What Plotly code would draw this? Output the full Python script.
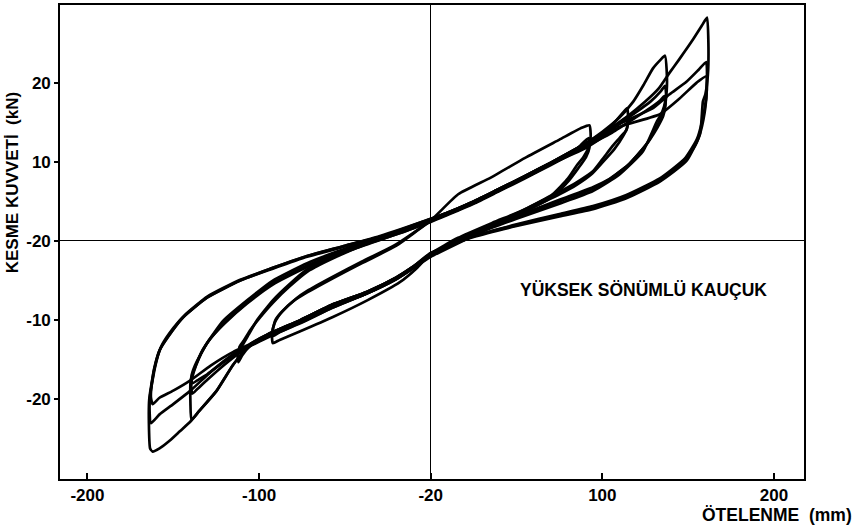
import plotly.graph_objects as go

# Hysteresis loops: (displacement mm, shear force kN), traversed clockwise
loop_a1 = [(92.5,14.6),(93.2,13.2),(92,11.8),(89,10.6),(85,9.5),(80,7.9),(71,5.9),(55,4.0),(36,2.3),(16,0.4),(0,-1.6),
           (-8,-3.4),(-18,-5.2),(-37,-7.5),(-57,-9.6),(-76,-11.4),(-88,-12.5),(-92,-12.9),(-92.5,-11.8),(-91,-10.4),
           (-89,-9.6),(-86,-8.8),(-78,-7.2),(-72,-6.3),(-57,-4.5),(-40,-2.6),(-20,-0.4),(0,2.6),(16,5.9),(35,8.0),
           (55,10.5),(75,12.8),(88,14.3),(92.5,14.6)]
loop_a2 = [(92,13.0),(92.5,11.8),(90.5,10.6),(86,9.2),(80,7.5),(71,5.6),(55,3.7),(36,2.0),(16,0.2),(0,-1.8),(-10,-3.3),
           (-20,-4.7),(-37,-6.6),(-57,-8.4),(-76,-10.4),(-88,-11.5),(-91.5,-12.0),(-92,-11.2),(-90.5,-10.0),(-87,-9.0),
           (-80,-7.6),(-72,-6.5),(-57,-4.7),(-40,-2.8),(-20,-0.6),(0,2.5),(10,3.4),(25,4.8),(40,6.4),(55,8.0),(70,9.7),
           (85,11.6),(92,13.0)]
loop_d1 = [(114.5,16.8),(115,15.2),(114,14.0),(110,13.0),(106,12.0),(100,10.3),(94.5,8.8),(85,7.4),(75,6.2),(55,4.0),
           (30,1.4),(0,-1.8),(-10,-3.2),(-20,-4.6),(-37,-6.4),(-57,-8.0),(-76,-10.0),(-95,-11.8),(-105,-13.2),(-110,-14.5),
           (-112,-15.3),(-112.5,-14.4),(-110.5,-13.5),(-106,-11.8),(-101.5,-10.1),(-92,-7.5),(-82,-5.4),(-72,-3.6),
           (-55,-1.8),(-35,0.0),(-15,1.4),(0,2.7),(10,3.6),(25,5.0),(40,6.6),(55,8.2),(70,9.9),(90,12.3),(100,13.6),
           (108,15.2),(112,16.2),(114.5,16.8)]
loop_d2 = [(114,15.6),(114.5,14.4),(112,13.2),(107,11.6),(100,9.9),(94,8.5),(85,7.1),(75,5.9),(55,3.8),(30,1.2),(0,-2.0),
           (-10,-3.4),(-20,-4.8),(-37,-6.6),(-57,-8.3),(-76,-10.2),(-95,-12.1),(-105,-13.2),(-111,-14.2),(-111.5,-13.4),
           (-109,-12.6),(-105,-11.2),(-100,-9.8),(-92,-7.8),(-82,-5.7),(-72,-3.9),(-55,-2.0),(-35,-0.2),(-15,1.2),(0,2.5),
           (10,3.4),(25,4.8),(40,6.4),(55,8.0),(70,9.7),(90,12.0),(100,13.3),(110,14.9),(114,15.6)]
loop_b1 = [(136.5,23.4),(137.5,21.5),(137.5,19.0),(136,17.0),(134,15.9),(131.8,15.1),(123.6,11.3),(110,8.4),(94.5,6.3),
           (75,4.7),(50,2.8),(30,1.2),(0,-1.6),(-10,-3.2),(-20,-4.6),(-37,-6.4),(-57,-8.0),(-76,-10.0),(-95,-11.8),
           (-105,-13.0),(-115,-15.6),(-125,-19.0),(-135,-21.5),(-139.4,-22.6),(-140,-20.5),(-139.8,-17.5),(-137,-15.8),
           (-133,-13.8),(-121,-10.1),(-107,-7.5),(-92,-5.0),(-72,-2.8),(-50,-1.0),(-30,0.4),(0,2.8),(10,3.6),(25,5.0),
           (40,6.6),(55,8.2),(70,9.9),(90,12.3),(100,13.8),(110,15.6),(118,17.6),(124,19.7),(129.5,21.8),(134,22.9),
           (136.5,23.4)]
loop_b2 = [(136.5,19.6),(137.2,18.3),(136,16.6),(133,15.0),(126,12.3),(116,9.8),(105,7.9),(94.5,6.6),(75,5.0),(50,3.0),
           (30,1.3),(0,-1.8),(-10,-3.3),(-20,-4.7),(-37,-6.5),(-57,-8.2),(-76,-10.1),(-95,-12.0),(-108,-13.6),(-120,-15.6),
           (-130,-17.5),(-136,-18.7),(-139,-19.3),(-139.5,-18.0),(-138,-16.5),(-135,-14.8),(-130,-12.8),(-121,-10.5),
           (-107,-7.8),(-92,-5.3),(-72,-3.1),(-50,-1.2),(-30,0.2),(0,2.6),(10,3.5),(25,4.9),(40,6.5),(55,8.1),(70,9.8),
           (90,12.1),(105,14.0),(118,16.0),(128,17.6),(134,18.9),(136.5,19.6)]
loop_b3 = [(136,18.3),(136.8,17.2),(135.5,15.8),(132,14.3),(125,12.0),(115,9.6),(104,7.8),(94.5,6.8),(75,5.2),(50,3.1),
           (30,1.4),(0,-1.9),(-10,-3.4),(-20,-4.8),(-37,-6.6),(-57,-8.4),(-76,-10.3),(-95,-12.2),(-108,-13.6),(-120,-15.2),
           (-130,-16.8),(-136,-17.6),(-139,-18.0),(-139.3,-17.0),(-137.5,-15.8),(-134,-14.3),(-129,-12.5),(-120,-10.4),
           (-107,-7.9),(-92,-5.5),(-72,-3.3),(-50,-1.4),(-30,0.1),(0,2.4),(10,3.3),(25,4.7),(40,6.3),(55,7.9),(70,9.6),
           (90,11.9),(105,13.6),(118,15.4),(128,16.8),(134,17.8),(136,18.3)]
loop_c1 = [(161,28.2),(161.8,25.0),(161.5,21.0),(160,18.5),(158.6,17.6),(156.9,13.5),(149,10.1),(133.5,7.5),(114,5.4),
           (94.5,4.0),(75,3.1),(50,1.9),(25,0.5),(0,-1.5),(-10,-3.2),(-20,-4.6),(-37,-6.4),(-57,-8.0),(-76,-10.0),
           (-95,-11.8),(-105,-13.0),(-115,-15.6),(-125,-19.0),(-135,-21.5),(-140,-22.8),(-146,-24.0),(-152,-25.2),
           (-158,-26.2),(-162,-26.6),(-163.5,-26.2),(-164.2,-23.0),(-164,-20.0),(-161,-16.0),(-158,-13.8),(-151,-11.5),
           (-144.6,-9.7),(-130.6,-7.2),(-111,-5.0),(-92,-3.4),(-72,-1.9),(-50,-0.6),(-30,0.6),(0,2.8),(10,3.6),(25,5.0),
           (40,6.6),(55,8.2),(70,9.9),(90,12.3),(105,14.3),(115,15.8),(125,17.6),(133,19.3),(139,21.2),(145,23.0),
           (153,25.5),(158,27.2),(161,28.2)]
loop_c2 = [(160.5,22.6),(161,20.5),(160.5,18.0),(158,15.0),(155,12.8),(148,10.4),(133.5,7.9),(114,5.8),(94.5,4.4),
           (75,3.4),(50,2.1),(25,0.6),(0,-1.6),(-10,-3.3),(-20,-4.7),(-37,-6.5),(-57,-8.2),(-76,-10.1),(-95,-12.0),
           (-115,-14.3),(-128,-16.5),(-140,-18.9),(-150,-20.6),(-158,-21.9),(-163,-23.0),(-163.8,-21.5),(-163.5,-19.5),
           (-160.5,-15.8),(-157.5,-13.6),(-150.5,-11.3),(-144,-9.6),(-130,-7.1),(-111,-5.0),(-92,-3.5),(-72,-2.0),
           (-50,-0.7),(-30,0.5),(0,2.6),(10,3.5),(25,4.9),(40,6.5),(55,8.1),(70,9.8),(90,12.0),(110,14.8),(129,16.7),
           (139,18.5),(149,20.1),(156,21.6),(160.5,22.6)]
loop_c3 = [(160.5,20.8),(160.8,19.0),(160,16.8),(157.5,14.0),(154,12.0),(147,10.0),(133,7.7),(114,5.6),(94.5,4.2),
           (75,3.3),(50,2.0),(25,0.6),(0,-1.7),(-10,-3.4),(-20,-4.8),(-37,-6.6),(-57,-8.3),(-76,-10.2),(-95,-12.1),
           (-115,-14.0),(-128,-15.7),(-140,-17.6),(-150,-18.9),(-158,-19.8),(-162,-20.6),(-163,-19.8),(-162.5,-18.0),
           (-160,-15.2),(-156.5,-13.1),(-150,-11.0),(-143.5,-9.4),(-130,-7.0),(-111,-4.9),(-92,-3.4),(-72,-1.9),
           (-50,-0.6),(-30,0.5),(0,2.5),(10,3.4),(25,4.8),(40,6.4),(55,8.0),(70,9.7),(90,11.7),(110,14.4),(133.5,16.0),
           (145,18.0),(155,20.0),(160.5,20.8)]

x_tick_vals = [-200, -100, 0, 100, 200]
x_tick_text = ["-200", "-100", "-20", "100", "200"]
y_tick_vals = [20, 10, 0, -10, -20]
y_tick_text = ["20", "10", "-20", "-10", "-20"]

loops = [loop_a1, loop_a2, loop_d1, loop_d2, loop_b1, loop_b2, loop_b3, loop_c1, loop_c2, loop_c3]

FONT = "Liberation Sans, Arial, sans-serif"
PLOT_L, PLOT_R, PLOT_T, PLOT_B = 60, 804, 3, 479
PW, PH = PLOT_R - PLOT_L, PLOT_B - PLOT_T

fig = go.Figure()
for lp in loops:
    xs = [p[0] for p in lp]
    ys = [p[1] for p in lp]
    fig.add_trace(go.Scatter(x=xs, y=ys, mode="lines",
                             line=dict(color="black", width=2.7, shape="spline", smoothing=0.5),
                             showlegend=False, hoverinfo="skip"))

fig.update_layout(
    width=856, height=528,
    margin=dict(l=PLOT_L, r=856 - PLOT_R, t=PLOT_T, b=528 - PLOT_B),
    paper_bgcolor="white", plot_bgcolor="white",
    font=dict(family=FONT, color="black"),
)
fig.update_xaxes(
    range=[-216, 217.5], tickvals=x_tick_vals, ticktext=x_tick_text,
    ticks="inside", ticklen=6, tickwidth=1.5, tickcolor="black",
    tickfont=dict(family=FONT, size=17, weight="bold", color="black"),
    showline=True, linecolor="black", linewidth=1.6, mirror=True,
    showgrid=False, zeroline=True, zerolinecolor="black", zerolinewidth=1.3,
    ticklabelstandoff=0,
)
fig.update_yaxes(
    range=[-30.06, 29.8], tickvals=y_tick_vals, ticktext=y_tick_text,
    ticks="outside", ticklen=4, tickwidth=1.5, tickcolor="black",
    tickfont=dict(family=FONT, size=17, weight="bold", color="black"),
    showline=True, linecolor="black", linewidth=1.6, mirror=True,
    showgrid=False, zeroline=True, zerolinecolor="black", zerolinewidth=1.3,
    ticklabelstandoff=0,
)

fig.add_annotation(x=124, y=-6.2, xref="x", yref="y", text="YÜKSEK SÖNÜMLÜ KAUÇUK",
                   showarrow=False, xanchor="center", yanchor="middle",
                   font=dict(family=FONT, size=17.5, weight="bold", color="black"))
fig.add_annotation(x=(12 - PLOT_L) / PW, y=(PLOT_B - 182) / PH, xref="paper", yref="paper",
                   text="KESME KUVVETİ  (kN)", textangle=-90, showarrow=False,
                   xanchor="center", yanchor="middle",
                   font=dict(family=FONT, size=17, weight="bold", color="black"))
fig.add_annotation(x=(854 - PLOT_L) / PW, y=(PLOT_B - 515) / PH, xref="paper", yref="paper",
                   text="ÖTELENME  (mm)", showarrow=False, xanchor="right", yanchor="middle",
                   font=dict(family=FONT, size=17.5, weight="bold", color="black"))

fig.write_html("out.html")
